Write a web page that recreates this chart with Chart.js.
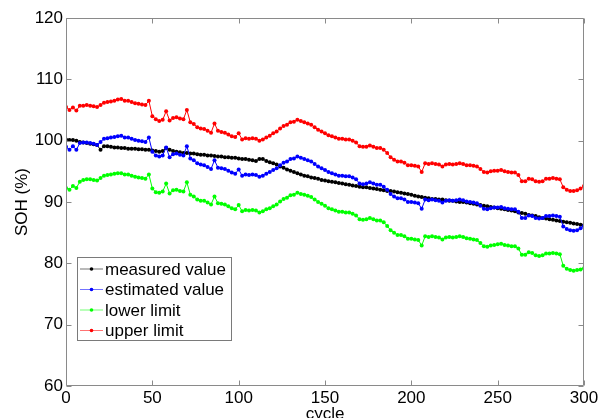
<!DOCTYPE html>
<html><head><meta charset="utf-8">
<script src="https://cdn.jsdelivr.net/npm/chart.js@4/dist/chart.umd.min.js"></script>
<style>html,body{margin:0;padding:0;background:#fff;overflow:hidden}canvas{display:block}</style>
</head><body><canvas id="c" width="611" height="418"></canvas>
<script>
// cycle numbers (every 2nd cycle, 0..300)
const cycleStep = 2;
const xTicks = [0, 50, 100, 150, 200, 250, 300];
const yTicks = [60, 70, 80, 90, 100, 110, 120];
const seriesLabels = ['measured value', 'estimated value', 'lower limit', 'upper limit'];

const measured = [100.2,100.1,100.1,100.0,99.8,99.7,99.6,99.5,99.4,99.3,98.5,99.1,99.1,99.0,98.9,98.9,98.8,98.8,98.7,98.7,
98.7,98.6,98.6,98.5,98.5,98.4,98.3,98.2,98.3,98.8,98.5,98.3,98.2,98.1,98.0,98.0,97.9,97.9,97.8,97.7,
97.7,97.6,97.6,97.5,97.4,97.4,97.3,97.3,97.2,97.2,97.1,97.0,97.0,96.9,96.8,96.7,97.0,97.0,96.7,96.5,
96.3,96.1,95.8,95.6,95.3,95.1,94.9,94.7,94.5,94.3,94.2,94.0,93.9,93.8,93.6,93.5,93.4,93.3,93.2,93.1,
93.0,92.9,92.8,92.7,92.6,92.5,92.4,92.4,92.3,92.2,92.1,92.0,91.9,91.8,91.8,91.7,91.6,91.5,91.4,91.3,
91.2,91.0,90.9,90.8,90.7,90.6,90.5,90.5,90.4,90.4,90.3,90.2,90.2,90.1,90.0,90.0,89.9,89.8,89.7,89.6,
89.5,89.4,89.3,89.2,89.1,89.0,88.9,88.8,88.7,88.6,88.5,88.3,88.2,88.1,87.9,87.8,87.7,87.5,87.4,87.3,
87.2,87.1,87.0,86.9,86.8,86.7,86.6,86.5,86.4,86.3,86.2];

const estimated = [99.0,98.5,99.1,98.5,99.6,99.7,99.7,99.6,99.5,99.3,99.8,100.3,100.4,100.5,100.6,100.7,100.8,100.5,100.5,100.3,
100.1,100.0,99.9,99.8,100.5,98.2,97.6,97.4,97.6,98.9,97.3,97.8,97.9,97.7,97.6,99.1,97.1,96.8,96.3,96.1,
96.0,95.7,95.4,96.8,95.6,95.5,95.4,95.1,94.8,94.6,95.3,94.3,94.5,94.4,94.5,94.4,94.1,94.3,94.6,94.9,
95.2,95.5,96.0,96.4,96.6,97.0,97.1,97.4,97.2,97.0,96.8,96.6,96.2,95.8,95.5,95.2,94.9,94.7,94.5,94.3,
94.3,94.2,94.2,94.0,93.7,93.0,92.9,93.0,93.2,93.0,92.8,92.8,92.5,92.0,91.3,90.9,90.6,90.6,90.4,90.0,
90.0,89.9,89.8,88.9,90.4,90.3,90.4,90.3,90.2,89.9,90.2,90.3,90.2,90.3,90.4,90.3,90.1,90.0,89.9,89.8,
89.4,88.9,88.8,89.0,89.1,89.1,89.2,89.0,88.9,88.8,88.8,88.4,87.4,87.4,87.8,87.7,87.4,87.3,87.4,87.7,
87.7,87.8,87.7,87.6,86.0,85.6,85.4,85.3,85.4,85.7,86.1];

const lowerLimit = [92.3,92.0,92.6,92.3,93.3,93.6,93.7,93.7,93.6,93.5,93.9,94.3,94.4,94.5,94.6,94.7,94.7,94.5,94.5,94.3,
94.1,94.0,93.9,93.8,94.5,92.2,91.6,91.5,91.7,93.0,91.4,91.9,92.0,91.8,91.7,93.2,91.2,90.9,90.4,90.2,
90.2,89.9,89.6,90.9,89.8,89.7,89.6,89.3,89.0,88.8,89.5,88.5,88.7,88.6,88.7,88.6,88.3,88.5,88.8,89.0,
89.3,89.6,90.1,90.5,90.7,91.1,91.2,91.5,91.3,91.2,91.0,90.8,90.4,90.0,89.7,89.4,89.0,88.8,88.6,88.4,
88.4,88.3,88.3,88.1,87.8,87.2,87.1,87.2,87.4,87.2,87.0,87.0,86.7,86.1,85.4,85.0,84.6,84.6,84.4,84.0,
84.0,83.9,83.8,82.9,84.4,84.3,84.4,84.3,84.2,83.9,84.2,84.3,84.2,84.3,84.4,84.3,84.1,84.0,83.9,83.8,
83.3,82.8,82.7,82.9,83.0,83.1,83.2,83.0,82.9,82.8,82.8,82.4,81.4,81.4,81.8,81.7,81.3,81.2,81.3,81.6,
81.6,81.7,81.6,81.5,79.6,79.1,78.9,78.8,78.9,79.0,79.2];

const upperLimit = [105.5,105.0,105.4,104.9,105.7,105.7,105.8,105.7,105.6,105.5,105.8,106.2,106.3,106.4,106.5,106.7,106.8,106.5,106.5,106.3,
106.1,106.0,105.9,105.8,106.5,104.0,103.5,103.2,103.4,104.8,103.3,103.7,103.8,103.6,103.5,105.0,103.0,102.7,102.2,102.0,
101.9,101.6,101.3,102.8,101.6,101.4,101.3,101.0,100.7,100.6,101.2,100.2,100.4,100.3,100.4,100.3,100.0,100.2,100.5,100.8,
101.2,101.5,102.0,102.4,102.6,103.0,103.1,103.4,103.2,103.0,102.8,102.6,102.2,101.8,101.5,101.2,100.9,100.7,100.5,100.3,
100.3,100.2,100.2,100.0,99.7,99.1,99.0,99.0,99.2,99.0,98.8,98.8,98.5,98.0,97.3,96.9,96.6,96.6,96.4,96.0,
96.0,95.9,95.8,94.9,96.3,96.2,96.3,96.2,96.1,95.8,96.1,96.2,96.1,96.2,96.3,96.2,96.0,96.0,95.9,95.8,
95.4,94.9,94.8,95.0,95.1,95.1,95.2,95.0,94.9,94.8,94.8,94.4,93.4,93.4,93.8,93.7,93.4,93.3,93.4,93.8,
93.8,93.9,93.8,93.7,92.4,92.0,91.8,91.8,91.9,92.2,92.6];

const cycles = measured.map((_, i) => i * cycleStep);
const colors = ['#000000', '#0000ff', '#00ff00', '#ff0000'];
const allSeries = [measured, estimated, lowerLimit, upperLimit];

const FONT = "'Liberation Sans', Arial, sans-serif";
const AXIS = '#8a8a8a';

const framePlugin = {
  id: 'frame',
  afterDraw(chart) {
    const {ctx, chartArea: a, scales: {x, y}} = chart;
    ctx.save();
    ctx.strokeStyle = AXIS;
    ctx.lineWidth = 1;
    const L = Math.round(a.left) + 0.5, R = Math.round(a.right) - 0.5;
    const T = Math.round(a.top) + 0.5, B = Math.round(a.bottom) - 0.5;
    ctx.beginPath();
    ctx.rect(L, T, R - L, B - T);
    x.ticks.forEach(t => {
      const px = Math.round(x.getPixelForValue(t.value)) + 0.5;
      ctx.moveTo(px, B); ctx.lineTo(px, B - 5);
      ctx.moveTo(px, T); ctx.lineTo(px, T + 5);
    });
    y.ticks.forEach(t => {
      const py = Math.round(y.getPixelForValue(t.value)) + 0.5;
      ctx.moveTo(L, py); ctx.lineTo(L + 5, py);
      ctx.moveTo(R, py); ctx.lineTo(R - 5, py);
    });
    ctx.stroke();

    // legend inside plot
    const bx = 77.5, by = 257.5, bw = 154, bh = 83;
    ctx.fillStyle = '#fff';
    ctx.fillRect(bx, by, bw, bh);
    ctx.strokeStyle = '#7a7a7a';
    ctx.strokeRect(bx, by, bw, bh);
    ctx.font = '17px ' + FONT;
    ctx.textBaseline = 'middle';
    ctx.textAlign = 'left';
    chart.data.datasets.forEach((ds, i) => {
      const cy = 269 + i * 20.5;
      ctx.globalAlpha = 0.55;
      ctx.strokeStyle = ds.borderColor;
      ctx.lineWidth = 1;
      ctx.beginPath(); ctx.moveTo(80, cy); ctx.lineTo(103, cy); ctx.stroke();
      ctx.globalAlpha = 1;
      ctx.fillStyle = ds.pointBackgroundColor;
      ctx.beginPath(); ctx.arc(91.5, cy, 1.8, 0, Math.PI * 2); ctx.fill();
      ctx.fillStyle = '#000';
      ctx.fillText(ds.label, 105, cy + 1);
    });
    ctx.restore();
  }
};

new Chart(document.getElementById('c'), {
  type: 'line',
  data: {
    datasets: allSeries.map((vals, i) => ({
      label: seriesLabels[i],
      data: vals.map((v, j) => ({x: cycles[j], y: v})),
      borderColor: colors[i],
      backgroundColor: colors[i],
      pointBackgroundColor: colors[i],
      borderWidth: 1,
      pointRadius: 2,
      pointBorderWidth: 0,
      tension: 0,
      fill: false,
      order: 4 - i
    }))
  },
  options: {
    responsive: false,
    animation: false,
    devicePixelRatio: 1,
    layout: {padding: {left: 0, right: 27, top: 18, bottom: 0}},
    plugins: {legend: {display: false}, tooltip: {enabled: false}},
    scales: {
      x: {
        type: 'linear', min: 0, max: 300,
        afterBuildTicks: s => { s.ticks = xTicks.map(v => ({value: v})); },
        afterFit: s => { s.height = 32; },
        grid: {display: false, drawTicks: false},
        border: {display: false},
        ticks: {color: '#000', font: {family: FONT, size: 17}, padding: 2, maxRotation: 0, autoSkip: false},
        title: {display: true, text: 'cycle', color: '#000', font: {family: FONT, size: 17}, padding: {top: 0, bottom: -7}}
      },
      y: {
        type: 'linear', min: 60, max: 120,
        afterBuildTicks: s => { s.ticks = yTicks.map(v => ({value: v})); },
        afterFit: s => { s.width = 66; },
        grid: {display: false, drawTicks: false},
        border: {display: false},
        ticks: {color: '#000', font: {family: FONT, size: 17}, padding: 3, autoSkip: false},
        title: {display: true, text: 'SOH (%)', color: '#000', font: {family: FONT, size: 17}, padding: {top: 12, bottom: 0}}
      }
    }
  },
  plugins: [framePlugin]
});
</script>
</body></html>
